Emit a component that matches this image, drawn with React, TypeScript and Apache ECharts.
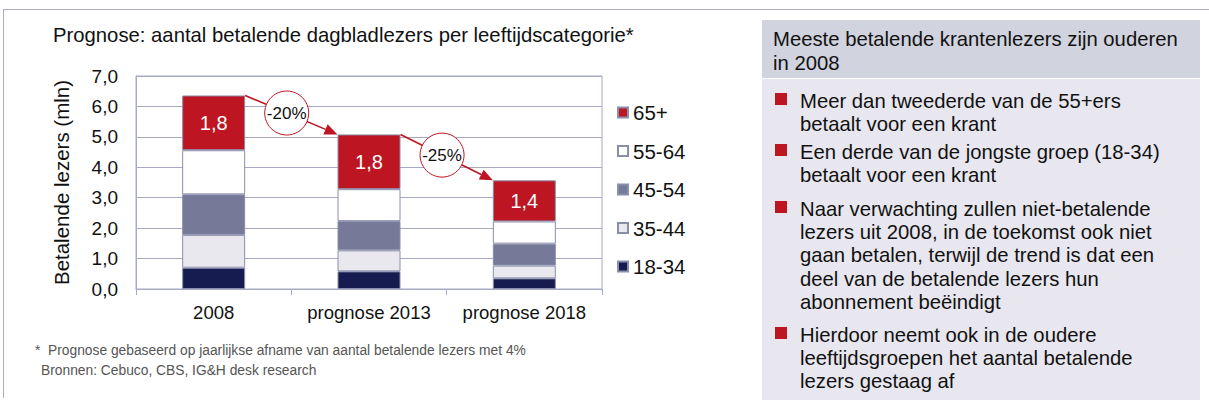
import React, { useEffect, useRef } from 'react';
import * as echarts from 'echarts';

const categories = ['2008', 'prognose 2013', 'prognose 2018'];
const ageGroups = ['18-34', '35-44', '45-54', '55-64', '65+'];
const v1834 = [0.70, 0.58, 0.35];
const v3544 = [1.08, 0.69, 0.42];
const v4554 = [1.33, 0.96, 0.72];
const v5564 = [1.45, 1.05, 0.73];
const v65 = [1.80, 1.80, 1.35];
const redLabels = ['1,8', '1,8', '1,4'];
const changeLabels = ['-20%', '-25%'];
const groupColors = ['#171C50', '#E9E8EF', '#767A98', '#FFFFFF', '#BE1522'];

const titleText = 'Prognose: aantal betalende dagbladlezers per leeftijdscategorie*';
const yAxisName = 'Betalende lezers (mln)';
const footnote1 = '*  Prognose gebaseerd op jaarlijkse afname van aantal betalende lezers met 4%';
const footnote2 = 'Bronnen: Cebuco, CBS, IG&H desk research';
const panelHeader = ['Meeste betalende krantenlezers zijn ouderen', 'in 2008'];
const bullets = [
  ['Meer dan tweederde van de 55+ers', 'betaalt voor een krant'],
  ['Een derde van de jongste groep (18-34)', 'betaalt voor een krant'],
  ['Naar verwachting zullen niet-betalende', 'lezers uit 2008, in de toekomst ook niet', 'gaan betalen, terwijl de trend is dat een', 'deel van de betalende lezers hun', 'abonnement beëindigt'],
  ['Hierdoor neemt ook in de oudere', 'leeftijdsgroepen het aantal betalende', 'lezers gestaag af'],
];

const FONT = '"Liberation Sans", Arial, Helvetica, sans-serif';
const RED = '#BE1522';
const BAR_W = 63;

export default function App() {
  const ref = useRef<HTMLDivElement>(null);
  useEffect(() => {
    if (!ref.current) return;
    const chart = echarts.init(ref.current, null, { renderer: 'svg' });
    const data = [v1834, v3544, v4554, v5564, v65];
    const totals = categories.map((_, i) => data.reduce((s, arr) => s + arr[i], 0));

    const series = ageGroups.map((name, k) => ({
      name,
      type: 'bar',
      stack: 'total',
      barWidth: BAR_W,
      data: data[k],
      itemStyle: { color: groupColors[k], borderColor: '#8A8EAB', borderWidth: 1 },
      label: k === 4 ? {
        show: true,
        position: 'inside',
        color: '#FFFFFF',
        fontSize: 20,
        fontFamily: FONT,
        formatter: (p: any) => redLabels[p.dataIndex],
      } : { show: false },
    }));

    const graphics: any[] = [];
    graphics.push({ type: 'line', shape: { x1: 3, y1: 9.5, x2: 1209, y2: 9.5 }, style: { stroke: '#A9ACC4', lineWidth: 1 } });
    graphics.push({ type: 'line', shape: { x1: 3.5, y1: 9, x2: 3.5, y2: 398 }, style: { stroke: '#A9ACC4', lineWidth: 1 } });
    graphics.push({ type: 'text', x: 53, y: 35, style: { text: titleText, fontSize: 20.3, fontFamily: FONT, fill: '#111', textVerticalAlign: 'middle' } });
    graphics.push({ type: 'text', x: 35, y: 350, style: { text: footnote1, fontSize: 13.8, fontFamily: FONT, fill: '#555', textVerticalAlign: 'middle' } });
    graphics.push({ type: 'text', x: 41, y: 370, style: { text: footnote2, fontSize: 13.8, fontFamily: FONT, fill: '#555', textVerticalAlign: 'middle' } });
    graphics.push({ type: 'rect', shape: { x: 762, y: 20, width: 438, height: 58 }, style: { fill: '#D1D3DE' } });
    graphics.push({ type: 'rect', shape: { x: 762, y: 79, width: 438, height: 321 }, style: { fill: '#E8E7EF' } });
    panelHeader.forEach((t, i) => {
      graphics.push({ type: 'text', x: 773, y: 39 + i * 24, style: { text: t, fontSize: 20.3, fontFamily: FONT, fill: '#111', textVerticalAlign: 'middle' } });
    });
    const bulletStarts = [101, 152, 209, 335];
    bullets.forEach((lines, b) => {
      const y0 = bulletStarts[b];
      graphics.push({ type: 'rect', shape: { x: 775, y: y0 - 8, width: 12, height: 12 }, style: { fill: RED } });
      lines.forEach((t, i) => {
        graphics.push({ type: 'text', x: 800, y: y0 + i * 23.2, style: { text: t, fontSize: 20.3, fontFamily: FONT, fill: '#111', textVerticalAlign: 'middle' } });
      });
    });

    chart.setOption({
      animation: false,
      textStyle: { fontFamily: FONT },
      grid: { left: 136, right: 607, top: 76, bottom: 114, show: true, borderColor: '#A7AAC2', borderWidth: 1 },
      legend: {
        data: [...ageGroups].reverse(),
        orient: 'vertical',
        left: 612,
        top: 97,
        itemWidth: 10,
        itemHeight: 10,
        itemGap: 17.5,
        icon: 'rect',
        textStyle: { fontSize: 20.5, color: '#111', fontFamily: FONT },
        selectedMode: false,
      },
      xAxis: {
        type: 'category',
        data: categories,
        axisLine: { lineStyle: { color: '#A7AAC2' } },
        axisTick: { show: true, length: 6, lineStyle: { color: '#A7AAC2' } },
        axisLabel: { fontSize: 18.5, color: '#111', margin: 14, interval: 0, hideOverlap: false },
      },
      yAxis: {
        type: 'value',
        min: 0,
        max: 7,
        interval: 1,
        name: yAxisName,
        nameLocation: 'middle',
        nameGap: 64,
        nameTextStyle: { fontSize: 20.5, color: '#111' },
        axisLine: { show: true, lineStyle: { color: '#A7AAC2' } },
        axisTick: { show: false },
        splitLine: { lineStyle: { color: '#A7AAC2' } },
        axisLabel: { fontSize: 19, color: '#111', margin: 18, formatter: (v: number) => v.toFixed(1).replace('.', ',') },
      },
      series,
      graphic: graphics,
    });

    const ann: any[] = [];
    for (let i = 0; i < categories.length - 1; i++) {
      const a = chart.convertToPixel({ xAxisIndex: 0, yAxisIndex: 0 }, [i, totals[i]]) as number[];
      const b = chart.convertToPixel({ xAxisIndex: 0, yAxisIndex: 0 }, [i + 1, totals[i + 1]]) as number[];
      const p0 = [a[0] + BAR_W / 2, a[1]];
      const p1 = [b[0] - BAR_W / 2, b[1]];
      const dx = p1[0] - p0[0], dy = p1[1] - p0[1];
      const len = Math.sqrt(dx * dx + dy * dy);
      const ux = dx / len, uy = dy / len;
      const nx = -uy, ny = ux;
      const base = [p1[0] - 13 * ux, p1[1] - 13 * uy];
      ann.push({ type: 'line', shape: { x1: p0[0], y1: p0[1], x2: base[0], y2: base[1] }, style: { stroke: RED, lineWidth: 1.6 }, z: 10 });
      ann.push({ type: 'polygon', shape: { points: [p1, [base[0] + 5.5 * nx, base[1] + 5.5 * ny], [base[0] - 5.5 * nx, base[1] - 5.5 * ny]] }, style: { fill: RED }, z: 10 });
      const c = [p0[0] + 0.45 * dx, p0[1] + 0.45 * dy];
      ann.push({ type: 'circle', shape: { cx: c[0], cy: c[1], r: 22 }, style: { fill: '#FFFFFF', stroke: RED, lineWidth: 1 }, z: 11 });
      ann.push({ type: 'text', x: c[0], y: c[1], style: { text: changeLabels[i], fontSize: 17, fontFamily: FONT, fill: '#111', textAlign: 'center', textVerticalAlign: 'middle' }, z: 12 });
    }
    chart.setOption({ graphic: [...graphics, ...ann] });

    return () => chart.dispose();
  }, []);

  return <div ref={ref} style={{ position: 'absolute', left: 0, top: 0, width: 1209, height: 403 }} />;
}
